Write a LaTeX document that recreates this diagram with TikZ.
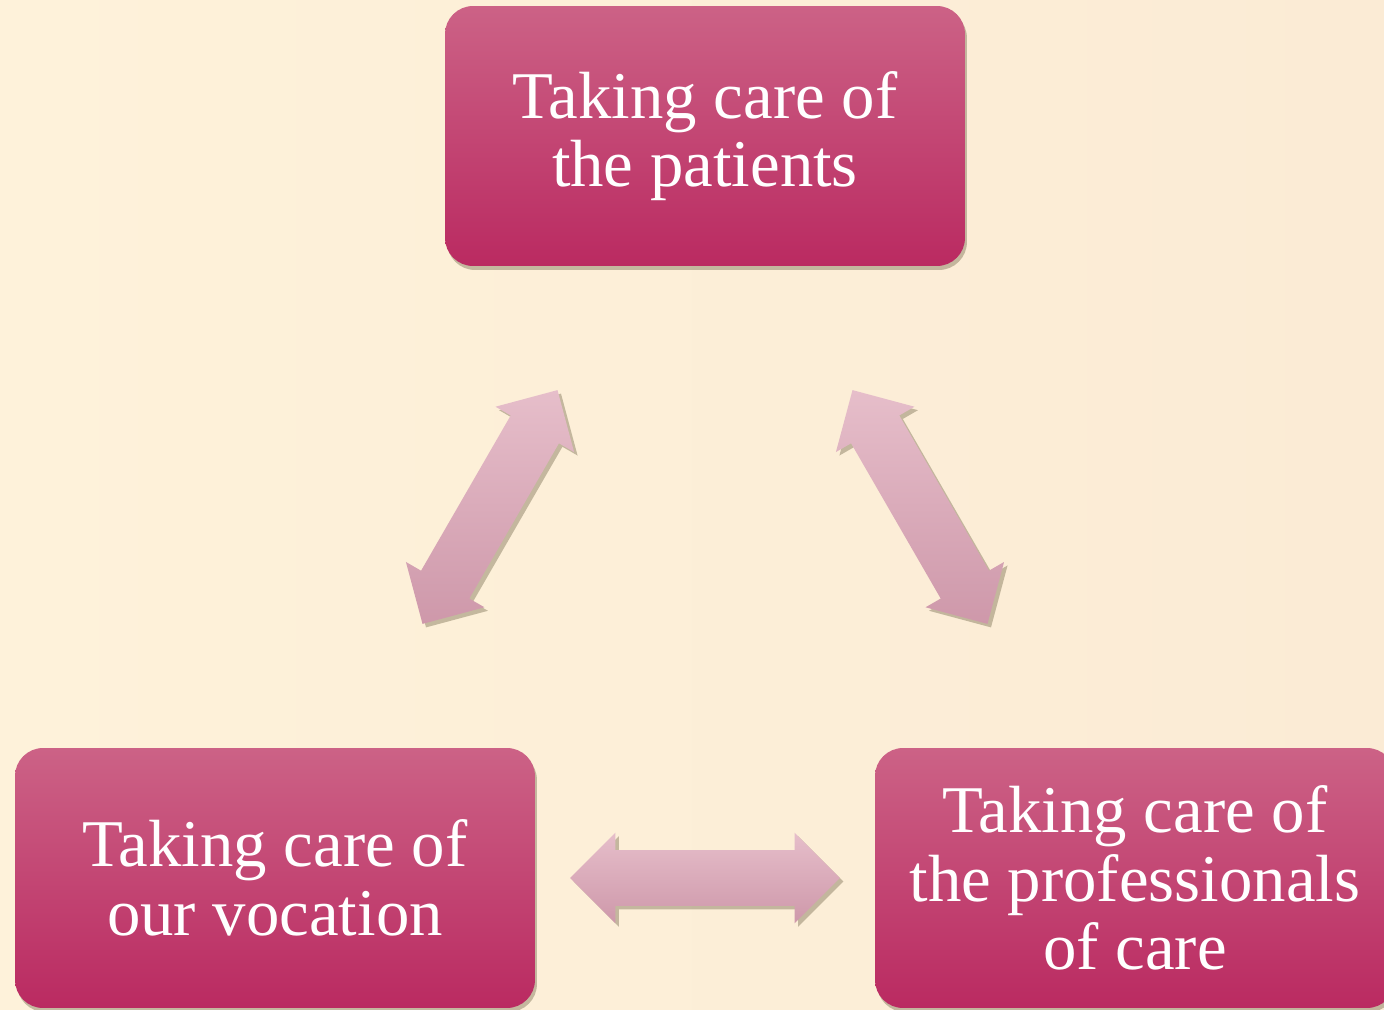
\documentclass[tikz,border=0pt]{standalone}
\usepackage{fontspec}
\setmainfont{Liberation Serif}
\usetikzlibrary{calc,shapes.arrows,shadows}
\definecolor{bgcream}{RGB}{254,242,218}
\definecolor{bgpeach}{RGB}{251,235,213}
\definecolor{boxtop}{RGB}{204,98,134}
\definecolor{boxbottom}{RGB}{186,42,97}
\definecolor{arrowlight}{RGB}{230,190,202}
\definecolor{arrowdark}{RGB}{206,152,170}
\definecolor{shadowbrown}{RGB}{90,80,50}
\begin{document}
\begin{tikzpicture}[x=0.02cm, y=-0.02cm,
        carebox/.style={rectangle, rounded corners=0.56cm,
            minimum width=10.4cm, minimum height=5.2cm,
            top color=boxtop, bottom color=boxbottom,
            text=white, align=center,
            font=\fontsize{38}{39}\selectfont,
            drop shadow={shadow xshift=0.04cm, shadow yshift=-0.08cm,
                opacity=0.35, fill=shadowbrown}},
        linkarrow/.style={double arrow, double arrow head extend=0.35cm,
            minimum height=5.4cm, inner xsep=0pt, inner ysep=0.55cm,
            top color=arrowlight, bottom color=arrowdark,
            drop shadow={shadow xshift=0.07cm, shadow yshift=-0.07cm,
                opacity=0.35, fill=shadowbrown}}]
    \useasboundingbox
        (0,0) rectangle (1384,1010);
    \clip
        (0,0) rectangle (1384,1010);
    \fill[left color=bgcream, right color=bgpeach]
        (0,0) rectangle (1384,1010);
    % the three boxes
    \node[carebox] (patients) at (705,136)
        {Taking care of\\the patients};
    \node[carebox] (vocation) at (275,878)
        {Taking care of\\our vocation};
    \node[carebox] (professionals) at (1135,878)
        {Taking care of\\the professionals\\of care};
    % the arrows between them
    \node[linkarrow, rotate=60]
        (patvoc) at ($(patients)!0.5!(vocation)$) {};
    \node[linkarrow, rotate=-60]
        (patpro) at ($(patients)!0.5!(professionals)$) {};
    \node[linkarrow]
        (vocpro) at ($(vocation)!0.5!(professionals)$) {};
\end{tikzpicture}
\end{document}
